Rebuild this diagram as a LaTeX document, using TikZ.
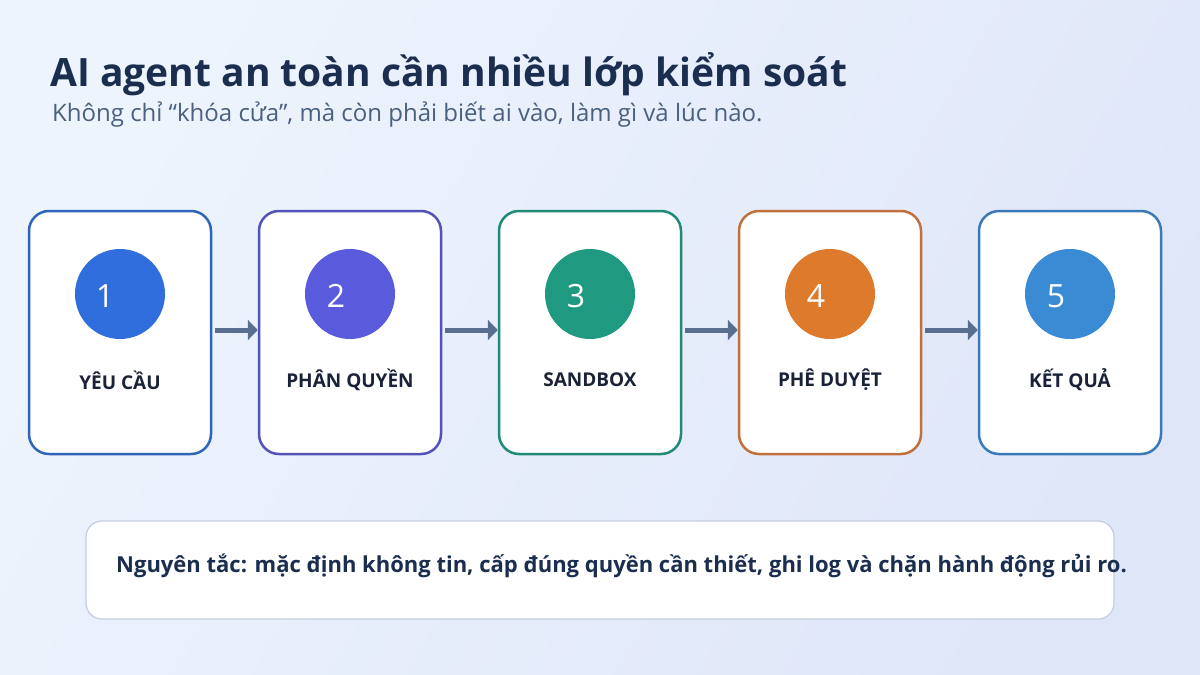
\documentclass[tikz,border=0pt]{standalone}
\usepackage{fontspec}
\setmainfont{Open Sans}
\usetikzlibrary{arrows.meta}
\definecolor{bgA}{HTML}{EEF4FD}
\definecolor{bgB}{HTML}{DFE6F8}
\definecolor{titlec}{HTML}{1C2E50}
\definecolor{subc}{HTML}{4A6080}
\definecolor{labc}{HTML}{1A2238}
\definecolor{arrc}{HTML}{5A6F8F}
\definecolor{bA}{HTML}{2F64B8}\definecolor{cA}{HTML}{2F6EDC}
\definecolor{bB}{HTML}{5252B8}\definecolor{cB}{HTML}{5A5ADC}
\definecolor{bC}{HTML}{1F8A75}\definecolor{cC}{HTML}{1F9A80}
\definecolor{bD}{HTML}{C0703A}\definecolor{cD}{HTML}{DD7A2C}
\definecolor{bE}{HTML}{3A7AB8}\definecolor{cE}{HTML}{3A8AD4}
\definecolor{noteb}{HTML}{C3CEE0}
\tikzset{
  stepbox/.style={draw=#1, line width=2.5pt, fill=white, rounded corners=20pt,
    minimum width=182pt, minimum height=243pt, inner sep=0pt},
  numdisc/.style={circle, fill=#1, minimum size=90pt, inner sep=0pt},
  numtext/.style={text=white, font=\fontsize{32}{34}\selectfont},
  steplabel/.style={text=labc, font=\bfseries\fontsize{19}{22}\selectfont},
  flow/.style={draw=arrc, line width=5pt, -{Triangle[length=10pt,width=20pt]}, shorten <=3pt},
}
\begin{document}
\begin{tikzpicture}[x=1pt,y=-1pt]
\useasboundingbox (0,0) rectangle (1200,675);
\shade[left color=bgA, right color=bgB, shading angle=60] (0,0) rectangle (1200,675);
\node[anchor=base west, text=titlec, font=\bfseries\fontsize{39}{44}\selectfont, inner sep=0pt] (title) at (50,86) {AI agent an toàn cần nhiều lớp kiểm soát};
\node[anchor=base west, text=subc, font=\fontsize{24}{28}\selectfont, inner sep=0pt] (sub) at (52,121) {Không chỉ “khóa cửa”, mà còn phải biết ai vào, làm gì và lúc nào.};
% boxes
\node[stepbox=bA] (b1) at (120,332.5) {};
\node[stepbox=bB] (b2) at (350,332.5) {};
\node[stepbox=bC] (b3) at (590,332.5) {};
\node[stepbox=bD] (b4) at (830,332.5) {};
\node[stepbox=bE] (b5) at (1070,332.5) {};
% discs
\node[numdisc=cA] (c1) at (120,294) {};
\node[numdisc=cB] (c2) at (350,294) {};
\node[numdisc=cC] (c3) at (590,294) {};
\node[numdisc=cD] (c4) at (830,294) {};
\node[numdisc=cE] (c5) at (1070,294) {};
\node[numtext] (n1) at (105,296) {1};
\node[numtext] (n2) at (336,296) {2};
\node[numtext] (n3) at (576,296) {3};
\node[numtext] (n4) at (816,296) {4};
\node[numtext] (n5) at (1056,296) {5};
% labels
\node[steplabel] (l1) at (120,380) {YÊU CẦU};
\node[steplabel] (l2) at (350,380) {PHÂN QUYỀN};
\node[steplabel] (l3) at (590,380) {SANDBOX};
\node[steplabel] (l4) at (830,380) {PHÊ DUYỆT};
\node[steplabel] (l5) at (1070,380) {KẾT QUẢ};
% arrows
\draw[flow] ([yshift=2.5pt]b1.east) -- ([yshift=2.5pt]b2.west);
\draw[flow] ([yshift=2.5pt]b2.east) -- ([yshift=2.5pt]b3.west);
\draw[flow] ([yshift=2.5pt]b3.east) -- ([yshift=2.5pt]b4.west);
\draw[flow] ([yshift=2.5pt]b4.east) -- ([yshift=2.5pt]b5.west);
% note
\node[draw=noteb, line width=1.2pt, fill=white, rounded corners=16pt, minimum width=1028pt, minimum height=98pt] (note) at (600,570) {};
\node[anchor=west, text=titlec, font=\bfseries\fontsize{22}{26}\selectfont, inner sep=0pt] (notetext) at (116,566) {Nguyên tắc: mặc định không tin, cấp đúng quyền cần thiết, ghi log và chặn hành động rủi ro.};
\end{tikzpicture}
\end{document}
